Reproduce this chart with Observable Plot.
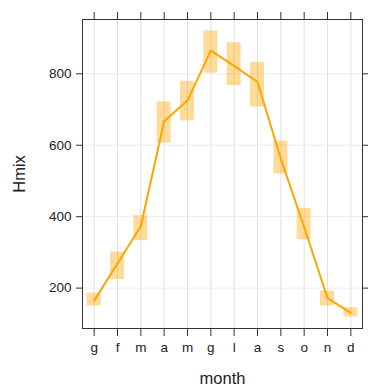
<!DOCTYPE html>
<html><head><meta charset="utf-8">
<script src="https://cdn.jsdelivr.net/npm/d3@7"></script>
<script src="https://cdn.jsdelivr.net/npm/@observablehq/plot@0.6"></script>
<style>body{margin:0;background:#fff}</style>
</head><body><div id="chart"></div>
<script>
const monthLabels = ["g","f","m","a","m","g","l","a","s","o","n","d"];
const monthIndex = [1,2,3,4,5,6,7,8,9,10,11,12];
const hmixMean  = [165,269,373,667,725,865,822,777,562,371,172,131];
const hmixLower = [150,224,333,606,668,802,767,707,520,336,150,119];
const hmixUpper = [186,301,403,721,779,920,887,832,612,423,192,145];
const yTicks = [200,400,600,800];

const data = monthIndex.map((m, i) => ({month: m, mean: hmixMean[i], lower: hmixLower[i], upper: hmixUpper[i]}));
const half = 0.3;
const axisColor = "#333";

const chart = Plot.plot({
  width: 368,
  height: 389,
  marginLeft: 82,
  marginRight: 6,
  marginTop: 19,
  marginBottom: 61,
  style: {fontFamily: "'Liberation Sans', Arial, sans-serif", fontSize: "13.5px", color: "#222", background: "#fff"},
  x: {type: "linear", domain: [0.5, 12.5]},
  y: {domain: [87, 952]},
  marks: [
    Plot.gridX(monthIndex, {stroke: "#e0e0e0", strokeOpacity: 1}),
    Plot.gridY(yTicks, {stroke: "#ececec", strokeOpacity: 1}),
    Plot.rect(data, {x1: d => d.month - half, x2: d => d.month + half, y1: "lower", y2: "upper", fill: "orange", fillOpacity: 0.4}),
    Plot.line(data, {x: "month", y: "mean", stroke: "orange", strokeWidth: 2}),
    Plot.frame({stroke: axisColor}),
    Plot.axisX({anchor: "bottom", ticks: monthIndex, tickFormat: i => monthLabels[i - 1], tickSize: 8, tickPadding: 6, label: null, stroke: axisColor, fill: "#222"}),
    Plot.axisX({anchor: "top", ticks: monthIndex, tickFormat: () => "", tickSize: 8, label: null, stroke: axisColor}),
    Plot.axisY({anchor: "left", ticks: yTicks, tickSize: 6, tickPadding: 5, label: null, stroke: axisColor, fill: "#222"}),
    Plot.axisY({anchor: "right", ticks: yTicks, tickFormat: () => "", tickSize: 6, label: null, stroke: axisColor}),
    Plot.text(["Hmix"], {frameAnchor: "left", dx: -63, rotate: -90, fontSize: 16.5, fill: "#222", textAnchor: "middle"}),
    Plot.text(["month"], {frameAnchor: "bottom", dy: 50, fontSize: 16.5, fill: "#222", textAnchor: "middle", lineAnchor: "middle"})
  ]
});
document.getElementById("chart").appendChild(chart);
</script>
</body></html>
